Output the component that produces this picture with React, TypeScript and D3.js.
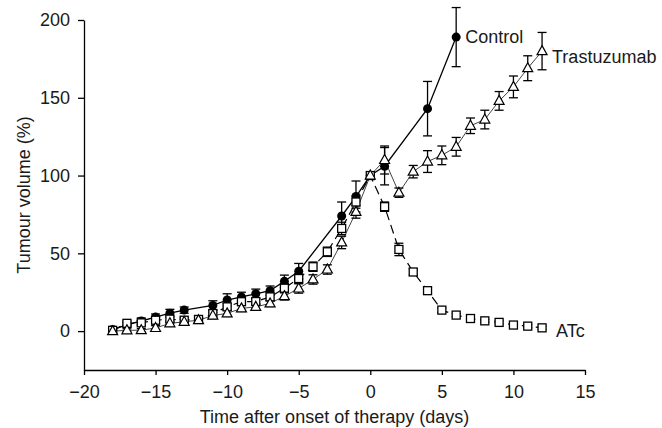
import React, { useEffect, useRef } from "react";
import * as d3 from "d3";

// days after onset of therapy
const controlDays = [-18, -17, -16, -15, -14, -13, -11, -10, -9, -8, -7, -6, -5, -2, -1, 0, 1, 4, 6];
const controlVals = [1, 4, 6.5, 9, 11.5, 13.5, 16.5, 20, 22, 24, 26, 32, 38.5, 74, 86.5, 100, 106, 143, 189];
const controlErr = [1, 1.5, 2, 2, 2.5, 2, 3, 4, 3, 3, 3, 4, 5, 9, 10, 0, 12, 17.5, 19];

const atcDays = [-18, -17, -16, -15, -14, -13, -12, -11, -10, -9, -8, -7, -6, -5, -4, -3, -2, -1, 0, 1, 2, 3, 4, 5, 6, 7, 8, 9, 10, 11, 12];
const atcVals = [0.5, 5, 5.3, 7, 7.7, 7, 7.5, 11.3, 15.6, 18.9, 19, 22, 27.6, 33.8, 41.4, 51, 66, 83, 100, 80, 52.5, 38, 26, 13.5, 10.3, 8.1, 6.6, 5.6, 3.9, 3.2, 2.1];
const atcErr = [1, 1.5, 1.5, 2, 2, 1.5, 1.5, 2, 2, 2, 2, 2.5, 3, 3, 3, 3, 4, 4, 0, 3, 4, 2, 2, 1.5, 1, 1, 1, 1, 1, 1, 1];

const trasDays = atcDays;
const trasVals = [0, 0.5, 0.6, 2, 5, 6, 7, 10, 11.4, 14.6, 15.6, 17.8, 22.5, 27.4, 33.2, 39.6, 57, 76.6, 100, 110, 89, 102.5, 109, 113, 118.5, 132, 136, 148, 157, 169, 180];
const trasErr = [1, 1, 1, 1.5, 1.5, 1.5, 1.5, 2, 2, 2, 2, 2, 2.5, 3, 3, 3, 4, 4, 0, 9, 3, 4, 7, 6, 6, 5, 6, 6, 7, 8, 12];

const xTicks = [-20, -15, -10, -5, 0, 5, 10, 15];
const yTicks = [0, 50, 100, 150, 200];

const FONT = "'Liberation Sans', Arial, sans-serif";
const INK = "#1a1a1a";

export default function App() {
  const x = d3.scaleLinear().domain([-20, 15]).range([84, 585]);
  const y = d3.scaleLinear().domain([-25, 200]).range([370, 20]);

  const xRef = useRef(null);
  const yRef = useRef(null);

  useEffect(() => {
    const xAxis = d3.axisBottom(x).tickValues(xTicks).tickSize(5).tickSizeOuter(0).tickPadding(10);
    const yAxis = d3.axisLeft(y).tickValues(yTicks).tickSize(6).tickSizeOuter(0).tickPadding(8);
    [[xRef, xAxis], [yRef, yAxis]].forEach(([ref, ax]: any) => {
      const g = d3.select(ref.current);
      g.call(ax);
      g.selectAll("path, line").attr("stroke", "#000").attr("stroke-width", 1.3);
      g.selectAll("text").attr("font-size", 18).attr("font-family", FONT).attr("fill", INK);
    });
  }, []);

  const line = (days: number[], vals: number[]) =>
    d3.line<number>().x((d) => x(d)).y((_, i) => y(vals[i]))(days) as string;

  const errBars = (days: number[], vals: number[], errs: number[], key: string) =>
    days.map((d, i) =>
      errs[i] > 0 ? (
        <g key={key + i} stroke="#000" strokeWidth={1.3}>
          <line x1={x(d)} x2={x(d)} y1={y(vals[i] - errs[i])} y2={y(vals[i] + errs[i])} />
          <line x1={x(d) - 4.5} x2={x(d) + 4.5} y1={y(vals[i] + errs[i])} y2={y(vals[i] + errs[i])} />
          <line x1={x(d) - 4.5} x2={x(d) + 4.5} y1={y(vals[i] - errs[i])} y2={y(vals[i] - errs[i])} />
        </g>
      ) : null
    );

  const tri = (cx: number, cy: number) =>
    `M${cx},${cy - 5.5}L${cx + 5},${cy + 3.5}L${cx - 5},${cy + 3.5}Z`;

  return (
    <svg width={662} height={428} style={{ position: "absolute", left: 0, top: 0, background: "#fff" }}>
      <rect width={662} height={428} fill="#fff" />
      <g ref={xRef} transform={`translate(0,${y(-25)})`} />
      <g ref={yRef} transform={`translate(${x(-20)},0)`} />

      <path d={line(trasDays, trasVals)} fill="none" stroke="#444" strokeWidth={1} />
      <path d={line(atcDays, atcVals)} fill="none" stroke="#000" strokeWidth={1.2} strokeDasharray="9,5" />
      <path d={line(controlDays, controlVals)} fill="none" stroke="#000" strokeWidth={1.3} />

      {errBars(atcDays, atcVals, atcErr, "a")}
      {errBars(trasDays, trasVals, trasErr, "t")}
      {errBars(controlDays, controlVals, controlErr, "c")}

      {controlDays.map((d, i) => (
        <circle key={"cc" + i} cx={x(d)} cy={y(controlVals[i])} r={4.5} fill="#000" />
      ))}
      {atcDays.map((d, i) => (
        <rect key={"as" + i} x={x(d) - 4} y={y(atcVals[i]) - 4} width={8} height={8} fill="#fff" stroke="#000" strokeWidth={1.3} />
      ))}
      {trasDays.map((d, i) => (
        <path key={"tt" + i} d={tri(x(d), y(trasVals[i]))} fill="#fff" stroke="#000" strokeWidth={1.2} />
      ))}

      <g fontFamily={FONT} fontSize={18} fill={INK}>
        <text x={x(6) + 9} y={y(189) + 6}>Control</text>
        <text x={x(12) + 10} y={y(180) + 12}>Trastuzumab</text>
        <text x={x(12) + 14} y={y(2.1) + 9}>ATc</text>
        <text x={(x(-20) + x(15)) / 2} y={423} textAnchor="middle">Time after onset of therapy (days)</text>
        <text transform={`translate(30,${(y(-25) + y(200)) / 2}) rotate(-90)`} textAnchor="middle">Tumour volume (%)</text>
      </g>
    </svg>
  );
}
